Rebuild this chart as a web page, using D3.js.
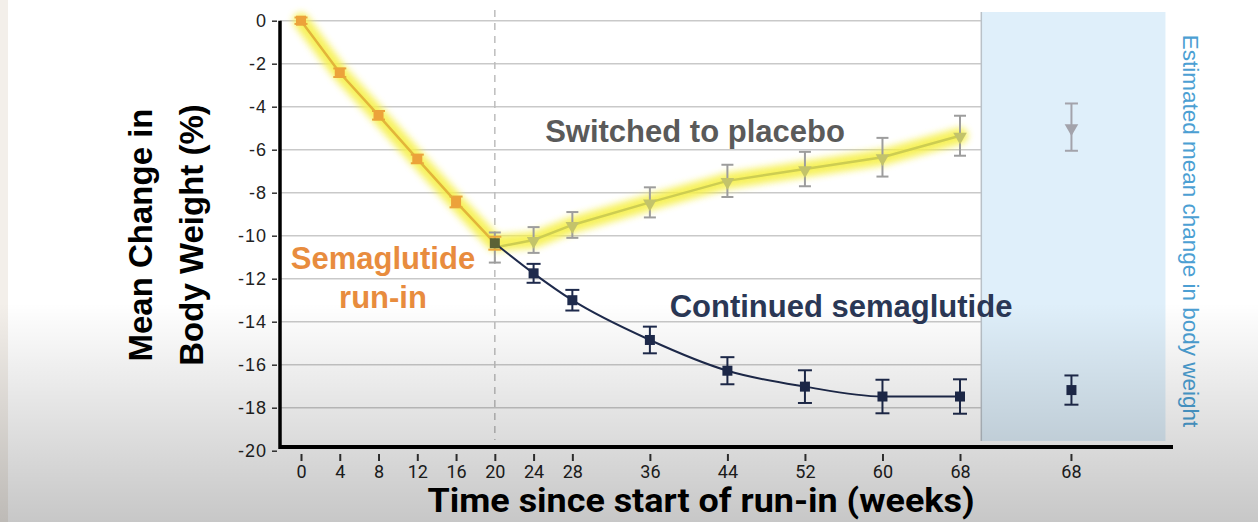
<!DOCTYPE html>
<html>
<head>
<meta charset="utf-8">
<script src="https://cdn.jsdelivr.net/npm/d3@7"></script>
<style>
  body { margin: 0; background: #fff; }
  svg { display: block; }
</style>
</head>
<body>
<svg id="chart"></svg>
<script>
// data
const runInWeeks = [0, 4, 8, 12, 16, 20];
const runInMean = [0, -2.42, -4.4, -6.43, -8.43, -10.35];
const runInErr = [0.15, 0.2, 0.2, 0.2, 0.25, 0.3];

const randWeeks = [20, 24, 28, 36, 44, 52, 60, 68];
const placeboMean = [-10.55, -10.2, -9.5, -8.45, -7.45, -6.9, -6.35, -5.35];
const placeboErr = [0.7, 0.6, 0.6, 0.7, 0.75, 0.8, 0.9, 0.93];
const semaMean = [-10.35, -11.75, -13.0, -14.85, -16.28, -17.02, -17.48, -17.48];
const semaErr = [0.3, 0.44, 0.48, 0.62, 0.63, 0.76, 0.78, 0.8];

const estMean = [-4.95, -17.18];   // placebo, continued
const estErr = [1.1, 0.68];

const xTicks = [0, 4, 8, 12, 16, 20, 24, 28, 36, 44, 52, 60, 68];
const yTicks = [0, -2, -4, -6, -8, -10, -12, -14, -16, -18, -20];

const W = 1258, H = 522;
const svg = d3.select("#chart").attr("width", W).attr("height", H);

const x = d3.scaleLinear().domain([0, 68]).range([301, 960]);
const y = d3.scaleLinear().domain([0, -20]).range([20.7, 450.7]);
const estWeek = 79.5;     // position of the estimate column
const axisY = 447;

const defs = svg.append("defs");
defs.append("filter").attr("id", "glow")
  .attr("x", "-20%").attr("y", "-20%").attr("width", "140%").attr("height", "140%")
  .append("feGaussianBlur").attr("stdDeviation", 3.5);
const grad = defs.append("linearGradient").attr("id", "shade")
  .attr("x1", 0).attr("y1", 0).attr("x2", 0).attr("y2", 1);
grad.append("stop").attr("offset", "0.58").attr("stop-color", "#000").attr("stop-opacity", 0);
grad.append("stop").attr("offset", "1").attr("stop-color", "#000").attr("stop-opacity", 0.22);

svg.append("rect").attr("width", W).attr("height", H).attr("fill", "#fff");
svg.append("rect").attr("width", 8).attr("height", H).attr("fill", "#f3efea");

// estimate panel
svg.append("rect")
  .attr("x", x(70.2)).attr("y", 12)
  .attr("width", x(89.2) - x(70.2)).attr("height", 441 - 12)
  .attr("fill", "#dfeffa");

// grid
svg.append("g").selectAll("line")
  .data(yTicks.slice(0, -1))
  .enter().append("line")
  .attr("x1", 280).attr("x2", x(70.2))
  .attr("y1", d => y(d)).attr("y2", d => y(d))
  .attr("stroke", "#c9c9c9").attr("stroke-width", 1.5);

svg.append("line")
  .attr("x1", x(70.2)).attr("x2", x(70.2)).attr("y1", 12).attr("y2", 441)
  .attr("stroke", "#b9c1c8").attr("stroke-width", 1.5);

svg.append("line")
  .attr("x1", x(20)).attr("x2", x(20)).attr("y1", 10).attr("y2", 440)
  .attr("stroke", "#bdbdbd").attr("stroke-width", 1.5)
  .attr("stroke-dasharray", "7,6");

// axes
const yAxis = svg.append("g")
  .attr("transform", "translate(277,0)")
  .call(d3.axisLeft(y).tickValues(yTicks).tickFormat(d => String(d)).tickSize(5).tickPadding(5));
yAxis.select(".domain").remove();
yAxis.selectAll("line").attr("stroke", "#333").attr("stroke-width", 1.5);
yAxis.selectAll("text")
  .attr("font-family", "Liberation Sans, Arial, sans-serif")
  .attr("font-size", 18).attr("letter-spacing", 1).attr("fill", "#222");

const xAxis = svg.append("g")
  .attr("transform", `translate(0,${axisY + 7})`)
  .call(d3.axisBottom(x).tickValues(xTicks).tickSize(7).tickPadding(4));
xAxis.select(".domain").remove();
xAxis.selectAll("line").attr("stroke", "#333").attr("stroke-width", 2);
xAxis.selectAll("text")
  .attr("font-family", "Roboto, sans-serif")
  .attr("font-size", 18).attr("fill", "#222");

const estTick = svg.append("g").attr("transform", `translate(${x(estWeek)},${axisY + 7})`);
estTick.append("line").attr("y2", 7).attr("stroke", "#333").attr("stroke-width", 2);
estTick.append("text").attr("y", 11).attr("dy", "0.71em")
  .attr("text-anchor", "middle")
  .attr("font-family", "Roboto, sans-serif").attr("font-size", 18).attr("fill", "#222")
  .text("68");

svg.append("line")
  .attr("x1", 280).attr("x2", 1173).attr("y1", axisY).attr("y2", axisY)
  .attr("stroke", "#000").attr("stroke-width", 4);
svg.append("line")
  .attr("x1", 280).attr("x2", 280).attr("y1", y(0)).attr("y2", axisY + 2)
  .attr("stroke", "#000").attr("stroke-width", 3.5);

// series
const runIn = runInWeeks.map((w, i) => ({ w, m: runInMean[i], e: runInErr[i] }));
const placebo = randWeeks.map((w, i) => ({ w, m: placeboMean[i], e: placeboErr[i] }));
const sema = randWeeks.map((w, i) => ({ w, m: semaMean[i], e: semaErr[i] }));

const line = d3.line().x(d => x(d.w)).y(d => y(d.m));
const smooth = d3.line().x(d => x(d.w)).y(d => y(d.m)).curve(d3.curveMonotoneX);

// yellow highlight
svg.append("path").attr("d", line(runIn.concat(placebo.slice(1))))
  .attr("fill", "none").attr("stroke", "#f6f04c").attr("stroke-width", 16)
  .attr("stroke-linejoin", "round").attr("stroke-linecap", "round")
  .attr("opacity", 0.9).attr("filter", "url(#glow)");

function errorBars(data, color, cap, xf) {
  const g = svg.append("g").attr("stroke", color).attr("stroke-width", 2);
  data.forEach(d => {
    const cx = xf(d);
    g.append("line").attr("x1", cx).attr("x2", cx).attr("y1", y(d.m + d.e)).attr("y2", y(d.m - d.e));
    g.append("line").attr("x1", cx - cap / 2).attr("x2", cx + cap / 2).attr("y1", y(d.m + d.e)).attr("y2", y(d.m + d.e));
    g.append("line").attr("x1", cx - cap / 2).attr("x2", cx + cap / 2).attr("y1", y(d.m - d.e)).attr("y2", y(d.m - d.e));
  });
}

errorBars(placebo, "#9d9d9d", 12, d => x(d.w));
errorBars(runIn, "#e9a53c", 13, d => x(d.w));
errorBars(sema.slice(1), "#1e2a4c", 14, d => x(d.w));

svg.append("path").attr("d", line(placebo))
  .attr("fill", "none").attr("stroke", "#cdcd52").attr("stroke-width", 2.5);
svg.append("path").attr("d", line(runIn))
  .attr("fill", "none").attr("stroke", "#e2b53a").attr("stroke-width", 2.5);
svg.append("path").attr("d", smooth(sema))
  .attr("fill", "none").attr("stroke", "#1e2a4c").attr("stroke-width", 2);

const tri = d3.symbol().type(d3.symbolTriangle).size(80);
svg.append("g").selectAll("path")
  .data(placebo.slice(1)).enter().append("path")
  .attr("d", tri)
  .attr("transform", d => `translate(${x(d.w)},${y(d.m) + 1}) rotate(180)`)
  .attr("fill", "#c3c36a");

svg.append("g").selectAll("rect")
  .data(runIn.slice(0, -1)).enter().append("rect")
  .attr("x", d => x(d.w) - 5).attr("y", d => y(d.m) - 5)
  .attr("width", 10).attr("height", 10).attr("fill", "#eca23a");

svg.append("g").selectAll("rect")
  .data(sema.slice(1)).enter().append("rect")
  .attr("x", d => x(d.w) - 5).attr("y", d => y(d.m) - 5)
  .attr("width", 10).attr("height", 10).attr("fill", "#1e2a4c");

// week 20 shared point
svg.append("rect")
  .attr("x", x(20) - 5).attr("y", y(runInMean[5]) - 5)
  .attr("width", 10).attr("height", 10).attr("fill", "#5b6236");

// estimated column
const est = [{ m: estMean[0], e: estErr[0] }, { m: estMean[1], e: estErr[1] }];
errorBars([est[0]], "#a3a3ab", 13, () => x(estWeek));
errorBars([est[1]], "#1e2a4c", 14, () => x(estWeek));
svg.append("path").attr("d", tri)
  .attr("transform", `translate(${x(estWeek)},${y(est[0].m) + 1}) rotate(180)`)
  .attr("fill", "#a3a3ab");
svg.append("rect")
  .attr("x", x(estWeek) - 5).attr("y", y(est[1].m) - 5)
  .attr("width", 10).attr("height", 10).attr("fill", "#1e2a4c");

// labels
const bold = "Liberation Sans, Arial, sans-serif";
svg.append("text").attr("x", 695).attr("y", 142).attr("text-anchor", "middle")
  .attr("font-family", bold).attr("font-weight", "bold").attr("font-size", 31)
  .attr("fill", "#5a5a5a").text("Switched to placebo");
svg.append("text").attr("x", 841).attr("y", 317).attr("text-anchor", "middle")
  .attr("font-family", bold).attr("font-weight", "bold").attr("font-size", 31)
  .attr("fill", "#2a3755").text("Continued semaglutide");
svg.append("text").attr("x", 383).attr("y", 269).attr("text-anchor", "middle")
  .attr("font-family", bold).attr("font-weight", "bold").attr("font-size", 31)
  .attr("fill", "#e88c3e").text("Semaglutide");
svg.append("text").attr("x", 383).attr("y", 308).attr("text-anchor", "middle")
  .attr("font-family", bold).attr("font-weight", "bold").attr("font-size", 31)
  .attr("fill", "#e88c3e").text("run-in");

svg.append("text")
  .attr("transform", "translate(152,235) rotate(-90)")
  .attr("text-anchor", "middle")
  .attr("font-family", bold).attr("font-weight", "bold").attr("font-size", 33)
  .attr("fill", "#000").text("Mean Change in");
svg.append("text")
  .attr("transform", "translate(203,235) rotate(-90)")
  .attr("text-anchor", "middle")
  .attr("font-family", bold).attr("font-weight", "bold").attr("font-size", 33)
  .attr("fill", "#000").text("Body Weight (%)");

svg.append("text")
  .attr("x", 701).attr("y", 512).attr("text-anchor", "middle")
  .attr("font-family", "Roboto, sans-serif").attr("font-weight", "bold").attr("font-size", 33)
  .attr("textLength", 547).attr("lengthAdjust", "spacingAndGlyphs")
  .attr("fill", "#000").text("Time since start of run-in (weeks)");

svg.append("text")
  .attr("transform", "translate(1183,231) rotate(90)")
  .attr("text-anchor", "middle")
  .attr("font-family", "Liberation Sans, Arial, sans-serif").attr("font-size", 22.5)
  .attr("fill", "#4c9fd3").text("Estimated mean change in body weight");

// video-style shading at the bottom
svg.append("rect").attr("width", W).attr("height", H)
  .attr("fill", "url(#shade)").attr("pointer-events", "none");
</script>
</body>
</html>
